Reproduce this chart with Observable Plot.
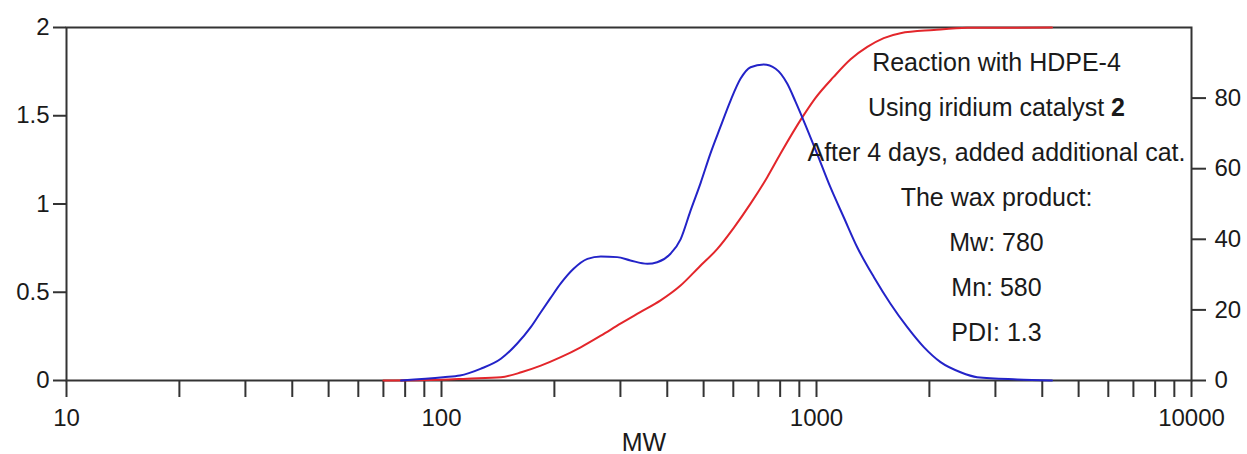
<!DOCTYPE html>
<html><head><meta charset="utf-8">
<script src="https://cdn.jsdelivr.net/npm/d3@7"></script>
<script src="https://cdn.jsdelivr.net/npm/@observablehq/plot@0.6"></script>
<style>body{margin:0;background:#fff}</style>
</head><body><div id="chart"></div>
<script>
// Blue: differential distribution (left axis)
const blueMW = [78,101,112,127,144,159,173,184,195,208,225,245,266,294,319,354,376,408,434,461,491,521,554,590,627,667,723,778,836,879,925,1004,1089,1182,1284,1423,1575,1746,1933,2142,2422,2681,3430,4246];
const blueVal = [0,0.019,0.028,0.066,0.123,0.208,0.302,0.387,0.465,0.55,0.633,0.689,0.703,0.699,0.68,0.661,0.67,0.718,0.8,0.96,1.12,1.284,1.435,1.586,1.709,1.775,1.79,1.766,1.681,1.58,1.47,1.284,1.095,0.925,0.755,0.585,0.435,0.302,0.189,0.104,0.047,0.019,0.006,0];
// Red: cumulative percentage (right axis)
const redMW = [70,100,117,144,164,184,208,235,266,300,338,384,434,486,544,603,667,739,802,917,993,1111,1233,1366,1511,1674,2055,2522,4246];
const redCum = [0,0.2,0.5,0.9,2.4,4.2,6.6,9.4,12.7,16.1,19.3,22.7,26.9,32.1,37.3,43.4,50.1,57.6,64.3,74.6,80,86,91,94.5,97,98.4,99.3,99.9,100];

const xTicks = [10,20,30,40,50,60,70,80,90,100,200,300,400,500,600,700,800,900,1000,2000,3000,4000,5000,6000,7000,8000,9000,10000];
const xTickLabels = [10,100,1000,10000];
const leftTicks = [0,0.5,1,1.5,2];
const rightTicks = [0,20,40,60,80];
const leftMax = 2;
const rightMax = 100;
const xLabel = "MW";
const annotationLines = ["Reaction with HDPE-4","Using iridium catalyst 2","After 4 days, added additional cat.","The wax product:","Mw: 780","Mn: 580","PDI: 1.3"];
const annotX = 3020;

const ratio = rightMax / leftMax;
const blue = blueMW.map((mw, i) => ({mw, v: blueVal[i]}));
const red = redMW.map((mw, i) => ({mw, v: redCum[i] / ratio}));
const axisColor = "#333";
const tickFont = 24;

const plot = Plot.plot({
  width: 1247, height: 454,
  marginLeft: 66, marginRight: 56, marginTop: 27, marginBottom: 74,
  style: {fontFamily: "'Liberation Sans', Arial, sans-serif", fontSize: "24px", background: "#fff", color: "#1a1a1a"},
  x: {type: "log", domain: [10, 10000]},
  y: {domain: [0, leftMax]},
  marks: [
    Plot.axisX({ticks: xTicks, tickSize: 17, tickPadding: 11, stroke: axisColor, strokeWidth: 2, fontSize: tickFont,
      tickFormat: d => xTickLabels.includes(d) ? String(d) : "", label: null}),
    Plot.axisY({anchor: "left", ticks: leftTicks, tickSize: 13, tickPadding: 4, stroke: axisColor, strokeWidth: 2, fontSize: tickFont,
      tickFormat: d => String(d), label: null}),
    Plot.axisY({anchor: "right", ticks: rightTicks.map(t => t / ratio), tickSize: 14, tickPadding: 9, stroke: axisColor, strokeWidth: 2, fontSize: tickFont,
      tickFormat: d => String(Math.round(d * ratio)), label: null}),
    Plot.frame({stroke: axisColor, strokeWidth: 2}),
    Plot.line(red, {x: "mw", y: "v", stroke: "#e3262b", strokeWidth: 2, curve: "monotone-x"}),
    Plot.line(blue, {x: "mw", y: "v", stroke: "#2323c8", strokeWidth: 2, curve: "monotone-x"}),
    Plot.text([annotationLines.join("\n")], {x: () => annotX, text: d => d, frameAnchor: "top", lineAnchor: "top",
      dy: 12, lineHeight: 1.8, fontSize: 25, fill: "#1a1a1a"}),
    Plot.text([xLabel], {frameAnchor: "bottom", text: d => d, lineAnchor: "bottom", dy: 70, dx: 15, fontSize: 25, fill: "#1a1a1a"})
  ]
});
document.getElementById("chart").appendChild(plot);

// bold catalyst number
plot.querySelectorAll("tspan").forEach(ts => {
  if (ts.textContent === "Using iridium catalyst 2") {
    ts.textContent = "Using iridium catalyst ";
    const b = document.createElementNS("http://www.w3.org/2000/svg", "tspan");
    b.setAttribute("font-weight", "bold");
    b.textContent = "2";
    ts.appendChild(b);
  }
});
</script>
</body></html>
